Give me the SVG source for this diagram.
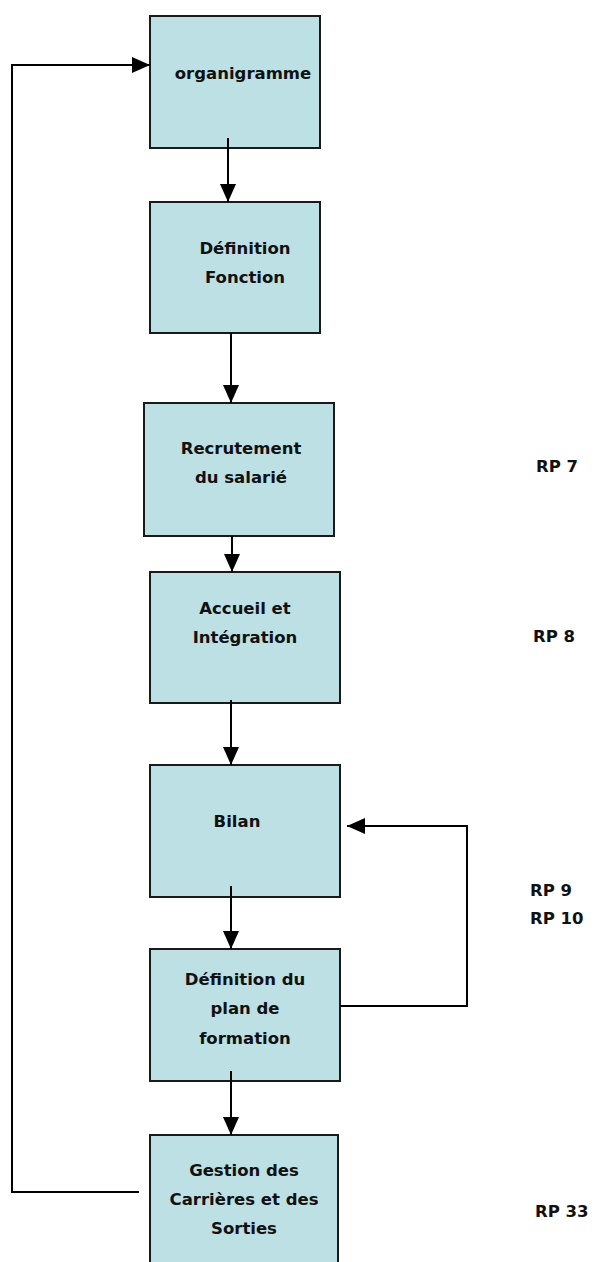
<svg xmlns="http://www.w3.org/2000/svg" width="606" height="1262" viewBox="0 0 606 1262">
  <style>
    .box { fill: #bce0e3; stroke: #1a1a1a; stroke-width: 2; }
    .lbl { font-family: "DejaVu Sans", "Liberation Sans", sans-serif; font-weight: bold; font-size: 16.5px; fill: #111; text-anchor: middle; }
    .rp { font-family: "DejaVu Sans", "Liberation Sans", sans-serif; font-weight: bold; font-size: 16.5px; fill: #111; }
    .wire { fill: none; stroke: #000; stroke-width: 2; }
  </style>
  <defs>
    <marker id="head" markerUnits="userSpaceOnUse" markerWidth="18" markerHeight="16" refX="18" refY="8" orient="auto">
      <path d="M0,0 L18,8 L0,16 Z" fill="#000"/>
    </marker>
  </defs>
  <rect width="606" height="1262" fill="#fff"/>

  <g id="n-organigramme">
    <rect class="box" x="150" y="16" width="170" height="132"/>
    <text class="lbl" x="243" y="79">organigramme</text>
  </g>
  <g id="n-definition-fonction">
    <rect class="box" x="150" y="202" width="170" height="131"/>
    <text class="lbl" x="245" y="254">Définition</text>
    <text class="lbl" x="245" y="283">Fonction</text>
  </g>
  <g id="n-recrutement">
    <rect class="box" x="144" y="403" width="190" height="133"/>
    <text class="lbl" x="241" y="454">Recrutement</text>
    <text class="lbl" x="241" y="483">du salarié</text>
  </g>
  <g id="n-accueil">
    <rect class="box" x="150" y="572" width="190" height="131"/>
    <text class="lbl" x="245" y="614">Accueil et</text>
    <text class="lbl" x="245" y="643">Intégration</text>
  </g>
  <g id="n-bilan">
    <rect class="box" x="150" y="765" width="190" height="132"/>
    <text class="lbl" x="237" y="827">Bilan</text>
  </g>
  <g id="n-plan-formation">
    <rect class="box" x="150" y="949" width="190" height="132"/>
    <text class="lbl" x="245" y="985">Définition du</text>
    <text class="lbl" x="245" y="1014">plan de</text>
    <text class="lbl" x="245" y="1044">formation</text>
  </g>
  <g id="n-gestion">
    <rect class="box" x="150" y="1135" width="188" height="140"/>
    <text class="lbl" x="244" y="1176">Gestion des</text>
    <text class="lbl" x="244" y="1205">Carrières et des</text>
    <text class="lbl" x="244" y="1234">Sorties</text>
  </g>

  <g id="refs">
    <text class="rp" x="536" y="472">RP 7</text>
    <text class="rp" x="533" y="642">RP 8</text>
    <text class="rp" x="530" y="896">RP 9</text>
    <text class="rp" x="530" y="924">RP 10</text>
    <text class="rp" x="535" y="1217">RP 33</text>
  </g>

  <g id="connectors">
    <line class="wire" x1="228" y1="138" x2="228" y2="202" marker-end="url(#head)"/>
    <line class="wire" x1="231" y1="333" x2="231" y2="403" marker-end="url(#head)"/>
    <line class="wire" x1="232" y1="536" x2="232" y2="572" marker-end="url(#head)"/>
    <line class="wire" x1="231" y1="700" x2="231" y2="765" marker-end="url(#head)"/>
    <line class="wire" x1="231" y1="886" x2="231" y2="949" marker-end="url(#head)"/>
    <line class="wire" x1="231" y1="1071" x2="231" y2="1135" marker-end="url(#head)"/>
    <polyline class="wire" points="340,1006 467,1006 467,826 347,826" marker-end="url(#head)"/>
    <polyline class="wire" points="139,1192 12,1192 12,65 150,65" marker-end="url(#head)"/>
  </g>
</svg>
